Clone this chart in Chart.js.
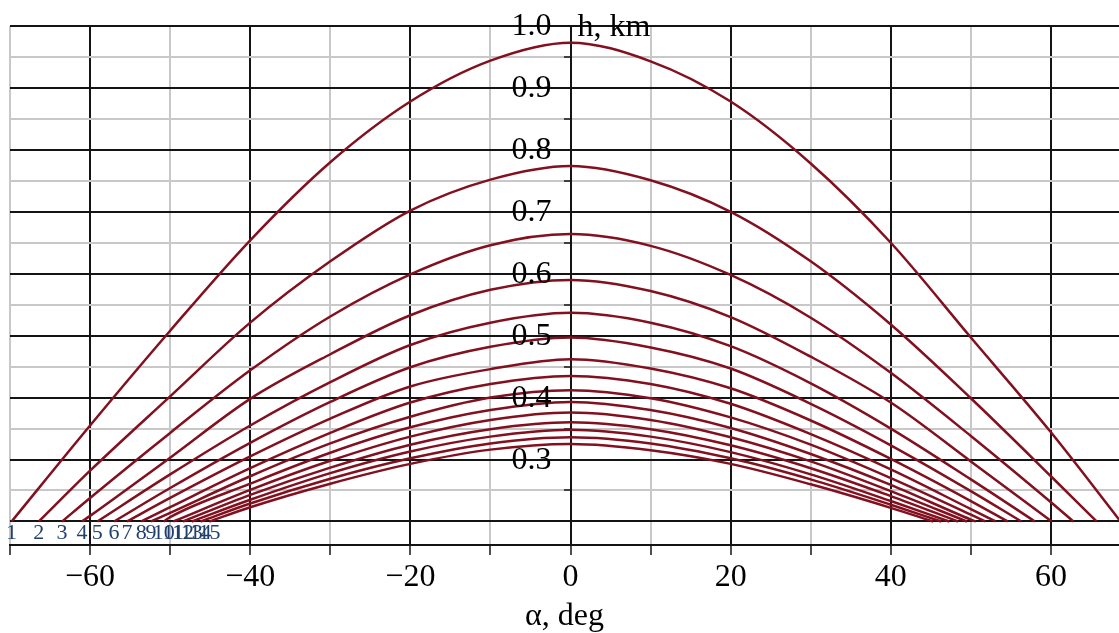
<!DOCTYPE html>
<html>
<head>
<meta charset="utf-8">
<script src="https://cdn.jsdelivr.net/npm/chart.js@4.4.1/dist/chart.umd.min.js"></script>
<style>
    html, body { margin: 0; padding: 0; background: #ffffff; }
</style>
</head>
<body>
<canvas id="myChart" width="1119" height="633"></canvas>
<script>
// all curves start and end at h = 0.2 km
const baseH = 0.2;
const alphaGrid = [-60, -50, -40, -30, -20, -10, 0, 10, 20, 30, 40, 50, 60];
const startAlpha = [-69.8, -66.4, -63.5, -61.0, -59.1, -57.0, -55.4, -53.6, -52.4, -50.8, -49.6, -48.4, -47.3, -46.2, -45.1];
const endAlpha = [68.7, 65.7, 62.8, 60.1, 58.0, 56.3, 54.6, 53.1, 51.8, 50.6, 49.5, 48.4, 47.3, 46.3, 45.3];
const curveNames = ['1', '2', '3', '4', '5', '6', '7', '8', '9', '10', '11', '12', '13', '14', '15'];

// h, km read at alphaGrid (null = outside the curve)
const h1 = [0.355, 0.508, 0.654, 0.78, 0.878, 0.944, 0.973, 0.943, 0.878, 0.778, 0.65, 0.497, 0.344];
const h2 = [0.282, 0.402, 0.521, 0.62, 0.702, 0.752, 0.774, 0.751, 0.70, 0.62, 0.518, 0.399, 0.273];
const h3 = [0.238, 0.343, 0.444, 0.531, 0.599, 0.646, 0.664, 0.645, 0.598, 0.529, 0.44, 0.338, 0.231];
const h4 = [0.209, 0.303, 0.398, 0.47, 0.533, 0.574, 0.59, 0.572, 0.53, 0.466, 0.392, 0.297, null];
const h5 = [null, 0.276, 0.355, 0.425, 0.485, 0.521, 0.537, 0.521, 0.483, 0.423, 0.35, 0.268, null];
const h6 = [null, 0.254, 0.327, 0.393, 0.449, 0.482, 0.497, 0.481, 0.447, 0.39, 0.323, 0.249, null];
const h7 = [null, 0.238, 0.305, 0.366, 0.418, 0.446, 0.462, 0.447, 0.415, 0.363, 0.301, 0.233, null];
const h8 = [null, 0.223, 0.286, 0.343, 0.392, 0.422, 0.435, 0.422, 0.39, 0.341, 0.284, 0.22, null];
const h9 = [null, 0.214, 0.273, 0.326, 0.369, 0.40, 0.412, 0.399, 0.368, 0.324, 0.27, 0.211, null];
const h10 = [null, 0.207, 0.261, 0.311, 0.352, 0.38, 0.393, 0.38, 0.351, 0.309, 0.259, 0.203, null];
const h11 = [null, null, 0.251, 0.298, 0.337, 0.364, 0.376, 0.364, 0.336, 0.297, 0.249, null, null];
const h12 = [null, null, 0.243, 0.287, 0.324, 0.349, 0.36, 0.349, 0.323, 0.286, 0.241, null, null];
const h13 = [null, null, 0.235, 0.278, 0.313, 0.337, 0.348, 0.337, 0.312, 0.276, 0.233, null, null];
const h14 = [null, null, 0.229, 0.269, 0.302, 0.326, 0.336, 0.326, 0.302, 0.268, 0.227, null, null];
const h15 = [null, null, 0.223, 0.261, 0.293, 0.316, 0.325, 0.315, 0.293, 0.26, 0.222, null, null];

const xTicks = [-70, -60, -50, -40, -30, -20, -10, 0, 10, 20, 30, 40, 50, 60];
const hTicks = [0.2, 0.25, 0.3, 0.35, 0.4, 0.45, 0.5, 0.55, 0.6, 0.65, 0.7, 0.75, 0.8, 0.85, 0.9, 0.95, 1.0];
const hLabels = [0.3, 0.4, 0.5, 0.6, 0.7, 0.8, 0.9, 1.0];

const serif = '"Liberation Serif", "DejaVu Serif", serif';
const curves = [h1, h2, h3, h4, h5, h6, h7, h8, h9, h10, h11, h12, h13, h14, h15];

const datasets = curves.map(function (h, i) {
    let pts = [{ x: startAlpha[i], y: baseH }];
    alphaGrid.forEach(function (a, j) {
        if (h[j] !== null) pts.push({ x: a, y: h[j] });
    });
    pts.push({ x: endAlpha[i], y: baseH });
    return {
        label: curveNames[i],
        data: pts,
        borderColor: '#82101f',
        borderWidth: 2.5,
        pointRadius: 0,
        fill: false,
        cubicInterpolationMode: 'monotone'
    };
});

function isMajor(v, step) {
    return Math.abs(Math.round(v / step) * step - v) < 1e-6;
}

// y labels sit left of the axis at alpha = 0, plus the axis name and curve numbers
const textPlugin = {
    id: 'curveTexts',
    afterDraw(chart) {
        const ctx = chart.ctx;
        const x = chart.scales.x;
        const y = chart.scales.y;
        const x0 = x.getPixelForValue(0);
        ctx.save();
        ctx.font = '32px ' + serif;
        ctx.fillStyle = '#000000';
        ctx.textAlign = 'right';
        ctx.textBaseline = 'middle';
        hLabels.forEach(function (v) {
            ctx.fillText(v.toFixed(1), x0 - 19, y.getPixelForValue(v) + 1);
        });

        ctx.textAlign = 'left';
        ctx.textBaseline = 'alphabetic';
        ctx.fillText('h, km', x0 + 7, y.getPixelForValue(1.0) + 10);

        ctx.font = '22px ' + serif;
        ctx.fillStyle = '#1f3f6e';
        ctx.textAlign = 'center';
        curveNames.forEach(function (name, i) {
            ctx.fillText(name, x.getPixelForValue(startAlpha[i]), y.getPixelForValue(baseH) + 18);
        });
        ctx.restore();
    }
};

const chart = new Chart(document.getElementById('myChart'), {
    type: 'line',
    data: { datasets: datasets },
    options: {
        responsive: false,
        animation: false,
        devicePixelRatio: 1,
        layout: { padding: { left: 10, right: 0, top: 26, bottom: 0 } },
        plugins: {
            legend: { display: false },
            tooltip: { enabled: false }
        },
        scales: {
            x: {
                type: 'linear',
                min: -70,
                max: 68.5,
                afterBuildTicks: function (scale) {
                    scale.ticks = xTicks.map((v) => ({ value: v }));
                },
                grid: {
                    color: (ctx) => isMajor(ctx.tick.value, 20) ? '#141414' : '#c8c8c8',
                    lineWidth: 2,
                    tickLength: 10,
                    tickColor: '#141414',
                    tickWidth: 1.5
                },
                border: { color: '#141414', width: 2 },
                ticks: {
                    autoSkip: false,
                    maxRotation: 0,
                    padding: 7,
                    color: '#000000',
                    font: { family: serif, size: 32, lineHeight: 1 },
                    callback: function (v) {
                        if (!isMajor(v, 20)) return '';
                        return v < 0 ? '\u2212' + Math.abs(v) : String(v);
                    }
                },
                title: {
                    display: true,
                    text: 'α, deg',
                    color: '#000000',
                    font: { family: serif, size: 32, lineHeight: 1 },
                    padding: { top: 0, bottom: 0 }
                }
            },
            y: {
                type: 'linear',
                min: 0.162,
                max: 1.0,
                position: { x: 0 },
                afterBuildTicks: function (scale) {
                    scale.ticks = hTicks.map((v) => ({ value: v }));
                },
                grid: {
                    color: (ctx) => isMajor(ctx.tick.value, 0.1) ? '#141414' : '#c8c8c8',
                    lineWidth: 2,
                    tickLength: 6,
                    tickColor: '#141414',
                    tickWidth: 1.5
                },
                border: { color: '#141414', width: 2 },
                ticks: { display: false }
            }
        }
    },
    plugins: [textPlugin]
});
</script>
</body>
</html>
